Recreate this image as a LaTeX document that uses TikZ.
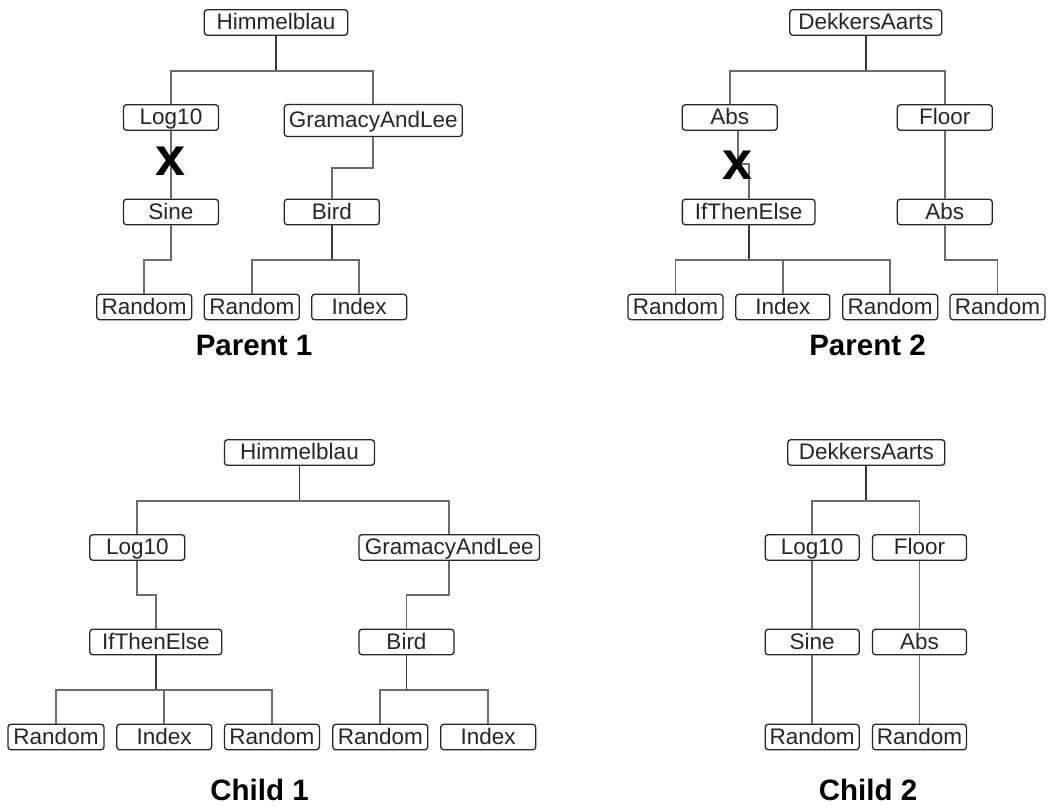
\documentclass[tikz,border=0pt]{standalone}
\usepackage{fontspec}
\setmainfont{Liberation Sans}
\begin{document}
\begin{tikzpicture}[x=1pt,y=-1pt,
  fn/.style={draw=black!85, line width=1.3pt, rounded corners=3pt, fill=white,
    inner sep=0pt, minimum height=25.5pt, text height=17pt, text depth=2.5pt,
    font=\fontsize{22.5}{26}\selectfont, text=black!85},
  conn/.style={draw=black!58, line width=1.8pt},
  stem/.style={draw=black!78, line width=1.8pt},
  cut/.style={font=\fontsize{54}{54}\selectfont\bfseries, inner sep=0pt},
  caption/.style={font=\fontsize{29.5}{32}\selectfont\bfseries, anchor=base, inner sep=0pt}]
\useasboundingbox (0,0) rectangle (1050,809);

% ---------- Parent 1 ----------
\node[fn, minimum width=143.4pt] (aroot) at (276,22.5) {Himmelblau};
\node[fn, minimum width=95pt] (alog) at (171,117.5) {Log10};
\node[fn, minimum width=178pt, minimum height=32pt] (agl) at (373.3,120.5) {GramacyAndLee};
\node[fn, minimum width=95pt] (asin) at (171,212) {Sine};
\node[fn, minimum width=95pt] (abird) at (331.8,212) {Bird};
\node[fn, minimum width=95pt] (ar1) at (144.2,307) {Random};
\node[fn, minimum width=95pt] (ar2) at (251.8,307) {Random};
\node[fn, minimum width=95pt] (aidx) at (359.2,307) {Index};
\node[caption] (acap) at (254,355) {Parent 1};

\draw[stem] (aroot.south) -- ++(0,35) coordinate (aj);
\draw[conn] (aj) -| (alog.north);
\draw[conn] (aj) -| (agl.north);
\draw[conn] (alog.south) -- (asin.north);
\draw[conn] (agl.south) -- ++(0,31) -| (abird.north);
\draw[conn] (asin.south) -- ++(0,34.3) -| (ar1.north);
\draw[stem] (abird.south) -- ++(0,34.3) coordinate (ab);
\draw[conn] (ab) -| (ar2.north);
\draw[conn] (ab) -| (aidx.north);
\node[cut] (acut) at (171,161) {x};

% ---------- Parent 2 ----------
\node[fn, minimum width=152pt] (broot) at (865.8,22.5) {DekkersAarts};
\node[fn, minimum width=95pt] (babs) at (729.8,117.5) {Abs};
\node[fn, minimum width=95pt] (bfloor) at (944.8,117.5) {Floor};
\node[fn, minimum width=132.7pt] (bite) at (748.7,212) {IfThenElse};
\node[fn, minimum width=95pt] (babs2) at (944.8,212) {Abs};
\node[fn, minimum width=95pt] (br1) at (675.5,307) {Random};
\node[fn, minimum width=94pt] (bidx) at (782.8,307) {Index};
\node[fn, minimum width=95pt] (br2) at (890.2,307) {Random};
\node[fn, minimum width=95pt] (br3) at (997.5,307) {Random};
\node[caption] (bcap) at (867.5,355) {Parent 2};

\draw[stem] (broot.south) -- ++(0,35) coordinate (bj);
\draw[conn] (bj) -| (babs.north);
\draw[conn] (bj) -| (bfloor.north);
\draw[conn] ([xshift=8pt]babs.south) -- ++(0,33) -| (bite.north);
\draw[conn] (bfloor.south) -- (babs2.north);
\draw[stem] (bite.south) -- ++(0,34.3) coordinate (bi);
\draw[conn] (bi) -| (br1.north);
\draw[conn] (bi) -| (bidx.north);
\draw[conn] (bi) -| (br2.north);
\draw[conn] (babs2.south) -- ++(0,34.3) -| (br3.north);
\node[cut] (bcut) at (738,165) {x};

% ---------- Child 1 ----------
\node[fn, minimum width=150pt] (croot) at (299.4,452.5) {Himmelblau};
\node[fn, minimum width=95pt] (clog) at (137.3,547.5) {Log10};
\node[fn, minimum width=180.6pt] (cgl) at (449.2,547.5) {GramacyAndLee};
\node[fn, minimum width=132pt] (cite) at (155.8,642) {IfThenElse};
\node[fn, minimum width=95pt] (cbird) at (406.5,642) {Bird};
\node[fn, minimum width=96pt] (cr1) at (56,737) {Random};
\node[fn, minimum width=95pt] (cidx1) at (164.2,737) {Index};
\node[fn, minimum width=95pt] (cr2) at (271.9,737) {Random};
\node[fn, minimum width=95pt] (cr3) at (380.3,737) {Random};
\node[fn, minimum width=95pt] (cidx2) at (488.2,737) {Index};
\node[caption] (ccap) at (259.5,800) {Child 1};

\draw[stem] (croot.south) -- ++(0,34.75) coordinate (cj);
\draw[conn] (cj) -| (clog.north);
\draw[conn] (cj) -| (cgl.north);
\draw[conn] (clog.south) -- ++(0,34) -| (cite.north);
\draw[conn] (cgl.south) -- ++(0,34) -| (cbird.north);
\draw[stem] (cite.south) -- ++(0,34.5) coordinate (ci);
\draw[conn] (ci) -| (cr1.north);
\draw[conn] (ci) -| (cidx1.north);
\draw[conn] (ci) -| (cr2.north);
\draw[stem] (cbird.south) -- ++(0,34.5) coordinate (cb);
\draw[conn] (cb) -| (cr3.north);
\draw[conn] (cb) -| (cidx2.north);

% ---------- Child 2 ----------
\node[fn, minimum width=157pt] (droot) at (866.3,452.5) {DekkersAarts};
\node[fn, minimum width=94pt] (dlog) at (812.2,547.5) {Log10};
\node[fn, minimum width=94pt] (dfloor) at (919.5,547.5) {Floor};
\node[fn, minimum width=94pt] (dsin) at (812.2,642) {Sine};
\node[fn, minimum width=94pt] (dabs) at (919.5,642) {Abs};
\node[fn, minimum width=94pt] (dr1) at (812.2,737) {Random};
\node[fn, minimum width=94pt] (dr2) at (919.5,737) {Random};
\node[caption] (dcap) at (868,800) {Child 2};

\draw[stem] (droot.south) -- ++(0,34.75) coordinate (dj);
\draw[conn] (dj) -| (dlog.north);
\draw[conn] (dj) -| (dfloor.north);
\draw[conn] (dlog.south) -- (dsin.north);
\draw[conn] (dsin.south) -- (dr1.north);
\draw[conn] (dfloor.south) -- (dabs.north);
\draw[conn] (dabs.south) -- (dr2.north);
\end{tikzpicture}
\end{document}
